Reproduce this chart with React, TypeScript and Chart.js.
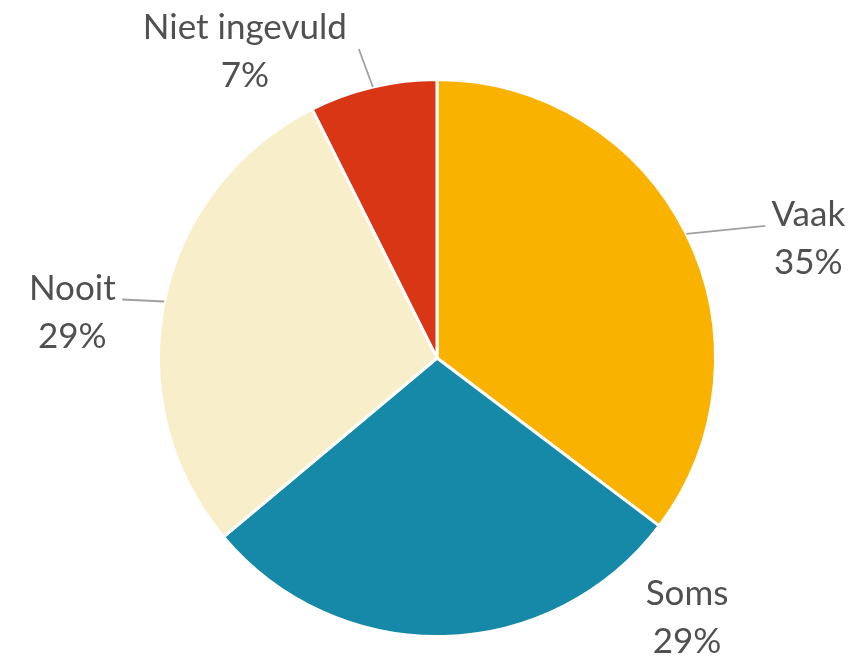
import React, { useEffect, useRef } from "react";
import { Chart, registerables } from "chart.js";

Chart.register(...registerables);

const categories = ["Vaak", "Soms", "Nooit", "Niet ingevuld"];
const values = [35.3, 28.6, 28.7, 7.4];
const colors = ["#F9B200", "#1689A9", "#F8EECA", "#D93616"];

// label placement relative to the arc edge at each slice's mid angle
const labelPlacement = [
  { dx: 122, dy: 5, leader: true, lx: -43, ly: -13 },
  { dx: 243, dy: -19, leader: false, lx: 0, ly: 0 },
  { dx: -92, dy: 11, leader: true, lx: 50, ly: -13 },
  { dx: -128, dy: -35, leader: true, lx: 114, ly: -3 },
];

const FONT = "35px Lato, 'Open Sans', sans-serif";

const labelPlugin = {
  id: "pieLabels",
  afterDatasetsDraw(chart: any) {
    const ctx = chart.ctx;
    const meta = chart.getDatasetMeta(0);
    const data = chart.data.datasets[0].data as number[];
    const total = data.reduce((a, b) => a + b, 0);
    ctx.save();
    meta.data.forEach((arc: any, i: number) => {
      const { x, y, startAngle, endAngle, outerRadius } = arc.getProps(
        ["x", "y", "startAngle", "endAngle", "outerRadius"],
        true
      );
      const mid = (startAngle + endAngle) / 2;
      const ex = x + Math.cos(mid) * outerRadius;
      const ey = y + Math.sin(mid) * outerRadius;
      const p = labelPlacement[i];
      const cx = ex + p.dx;
      const cy = ey + p.dy;
      if (p.leader) {
        ctx.strokeStyle = "#A0A0A0";
        ctx.lineWidth = 1.8;
        ctx.beginPath();
        ctx.moveTo(ex, ey);
        ctx.lineTo(cx + p.lx, cy + p.ly);
        ctx.stroke();
      }
      ctx.fillStyle = "#505050";
      ctx.font = FONT;
      ctx.textAlign = "center";
      ctx.textBaseline = "middle";
      const pct = Math.round((data[i] / total) * 100) + "%";
      ctx.fillText(String(chart.data.labels[i]), cx, cy - 24);
      ctx.fillText(pct, cx, cy + 24);
    });
    ctx.restore();
  },
};

export default function App() {
  const ref = useRef<HTMLCanvasElement | null>(null);
  useEffect(() => {
    if (!ref.current) return;
    const chart = new Chart(ref.current, {
      type: "pie",
      data: {
        labels: categories,
        datasets: [
          {
            data: values,
            backgroundColor: colors,
            borderColor: "#FFFFFF",
            borderWidth: 3,
          },
        ],
      },
      options: {
        animation: false,
        responsive: false,
        layout: { padding: { left: 157, right: 144, top: 78, bottom: 19 } },
        plugins: {
          legend: { display: false },
          tooltip: { enabled: false },
        },
      },
      plugins: [labelPlugin],
    });
    return () => chart.destroy();
  }, []);
  return (
    <div style={{ position: "fixed", left: 0, top: 0, width: 861, height: 657, background: "#fff" }}>
      <canvas ref={ref} width={861} height={657} style={{ width: 861, height: 657 }} />
    </div>
  );
}
